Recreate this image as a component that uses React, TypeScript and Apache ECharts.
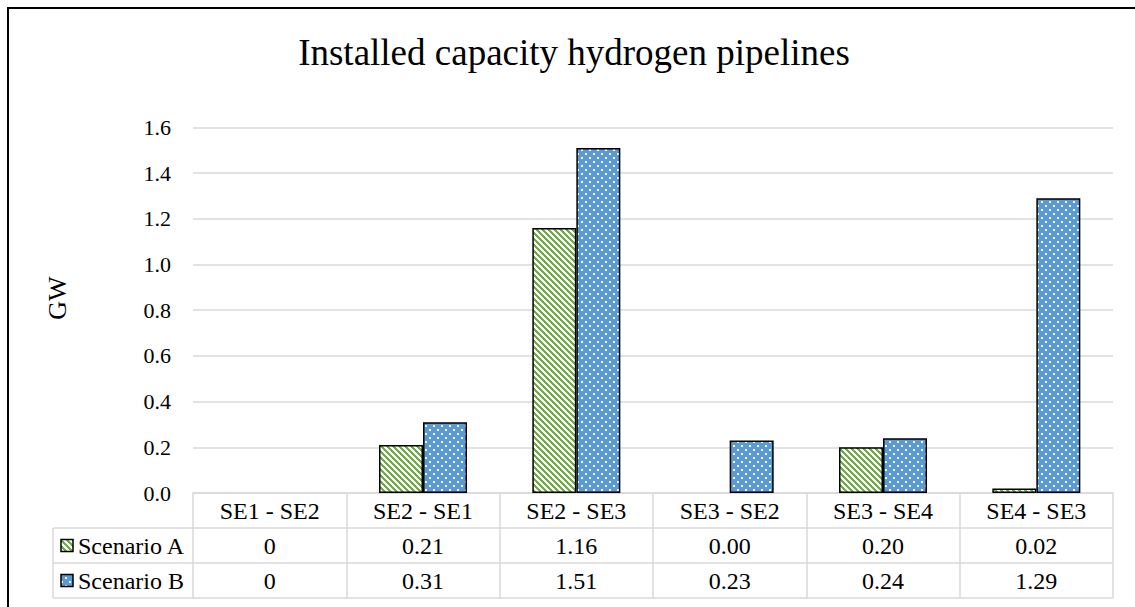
import React, { useEffect, useRef } from "react";
import * as echarts from "echarts";

const categories = ["SE1 - SE2", "SE2 - SE1", "SE2 - SE3", "SE3 - SE2", "SE3 - SE4", "SE4 - SE3"];
const seriesNames = ["Scenario A", "Scenario B"];
const scenarioA = [0, 0.21, 1.16, 0, 0.2, 0.02];
const scenarioB = [0, 0.31, 1.51, 0.23, 0.24, 1.29];
const tableA = ["0", "0.21", "1.16", "0.00", "0.20", "0.02"];
const tableB = ["0", "0.31", "1.51", "0.23", "0.24", "1.29"];
const yMin = 0;
const yMax = 1.6;
const yInterval = 0.2;
const titleText = "Installed capacity hydrogen pipelines";
const yAxisName = "GW";

const W = 1135;
const H = 607;
const GRID_LEFT = 193;
const GRID_RIGHT = 22;
const GRID_TOP = 127.4;
const GRID_BOTTOM = 114;
const ROW_H = 35;
const TABLE_LEFT = 53;
const FONT = "Liberation Serif";
const LINE = "#D9D9D9";
const GREEN = "#70AD47";
const BLUE = "#5B9BD5";

function stripeTile(): HTMLCanvasElement {
  const s = 6;
  const c = document.createElement("canvas");
  c.width = s;
  c.height = s;
  const ctx = c.getContext("2d")!;
  ctx.fillStyle = "#ffffff";
  ctx.fillRect(0, 0, s, s);
  ctx.fillStyle = GREEN;
  for (let y = 0; y < s; y++) {
    for (let x = 0; x < s; x++) {
      if ((((x - y) % s) + s) % s < 3) ctx.fillRect(x, y, 1, 1);
    }
  }
  return c;
}

function dotTile(): HTMLCanvasElement {
  const s = 8;
  const c = document.createElement("canvas");
  c.width = s;
  c.height = s;
  const ctx = c.getContext("2d")!;
  ctx.fillStyle = BLUE;
  ctx.fillRect(0, 0, s, s);
  ctx.fillStyle = "#ffffff";
  ctx.fillRect(1, 1, 2, 2);
  ctx.fillRect(5, 5, 2, 2);
  return c;
}

export default function App() {
  const ref = useRef<HTMLDivElement>(null);

  useEffect(() => {
    if (!ref.current) return;
    const chart = echarts.init(ref.current, null, { renderer: "svg" });
    const stripes: any = { image: stripeTile(), repeat: "repeat", imageWidth: 6, imageHeight: 6 };
    const dots: any = { image: dotTile(), repeat: "repeat", imageWidth: 8, imageHeight: 8 };
    const patterns = [stripes, dots];
    const toBar = (arr: number[]) => arr.map((v) => (v === 0 ? null : v));

    chart.setOption({
      animation: false,
      textStyle: { fontFamily: FONT },
      grid: { left: GRID_LEFT, right: GRID_RIGHT, top: GRID_TOP, bottom: GRID_BOTTOM, containLabel: false },
      xAxis: {
        type: "category",
        data: categories,
        axisLine: { show: true, lineStyle: { color: LINE, width: 1.5 } },
        axisTick: { show: true, length: ROW_H * 3, lineStyle: { color: LINE, width: 1.5 } },
        axisLabel: {
          fontSize: 24,
          fontFamily: FONT,
          color: "#000",
          margin: ROW_H / 2,
          verticalAlign: "middle",
        },
        z: 1,
      },
      yAxis: {
        type: "value",
        min: yMin,
        max: yMax,
        interval: yInterval,
        axisLine: { show: false },
        axisTick: { show: false },
        axisLabel: {
          formatter: (v: number) => v.toFixed(1),
          fontSize: 22,
          fontFamily: FONT,
          color: "#000",
          margin: 22,
        },
        splitLine: { lineStyle: { color: LINE, width: 1.5 } },
      },
      series: [scenarioA, scenarioB].map((arr, i) => ({
        type: "bar",
        name: seriesNames[i],
        data: toBar(arr),
        barWidth: "28.7%",
        barGap: "0%",
        itemStyle: { color: patterns[i], borderColor: "#000", borderWidth: 1.5 },
        z: 3,
      })),
    });

    const centers = categories.map((_, i) => chart.convertToPixel({ xAxisIndex: 0 }, i) as number);
    const axisY = H - GRID_BOTTOM;
    const rightX = W - GRID_RIGHT;
    const rows = [tableA, tableB];
    const elements: any[] = [];
    const txt = (size: number, extra: any) => ({
      fontFamily: FONT,
      fontSize: size,
      fill: "#000",
      verticalAlign: "middle",
      ...extra,
    });

    elements.push({
      type: "text",
      x: 574,
      y: 52,
      style: txt(37, { text: titleText, align: "center" }),
    });
    elements.push({
      type: "text",
      x: 57,
      y: 298,
      rotation: Math.PI / 2,
      style: txt(26, { text: yAxisName, align: "center" }),
    });

    for (let r = 1; r <= 3; r++) {
      elements.push({
        type: "line",
        shape: { x1: TABLE_LEFT, y1: axisY + r * ROW_H, x2: rightX, y2: axisY + r * ROW_H },
        style: { stroke: LINE, lineWidth: 1.5 },
      });
    }
    elements.push({
      type: "line",
      shape: { x1: TABLE_LEFT, y1: axisY + ROW_H, x2: TABLE_LEFT, y2: axisY + 3 * ROW_H },
      style: { stroke: LINE, lineWidth: 1.5 },
    });

    rows.forEach((row, r) => {
      const cy = axisY + ROW_H * (r + 1.5);
      elements.push({
        type: "rect",
        shape: { x: 61, y: cy - 6, width: 12, height: 12 },
        style: { fill: patterns[r], stroke: "#000", lineWidth: 1.5 },
      });
      elements.push({
        type: "text",
        x: 78,
        y: cy,
        style: txt(24, { text: seriesNames[r], align: "left" }),
      });
      row.forEach((label, i) => {
        elements.push({
          type: "text",
          x: centers[i],
          y: cy,
          style: txt(24, { text: label, align: "center" }),
        });
      });
    });

    chart.setOption({ graphic: { elements } });

    return () => {
      chart.dispose();
    };
  }, []);

  return (
    <div style={{ position: "fixed", left: 0, top: 0, width: W, height: H, overflow: "hidden", background: "#fff" }}>
      <div
        style={{
          position: "absolute",
          left: 7,
          top: 7,
          width: W + 100,
          height: H + 100,
          border: "2px solid #000",
          boxSizing: "border-box",
        }}
      />
      <div ref={ref} style={{ position: "absolute", left: 0, top: 0, width: W, height: H }} />
    </div>
  );
}
